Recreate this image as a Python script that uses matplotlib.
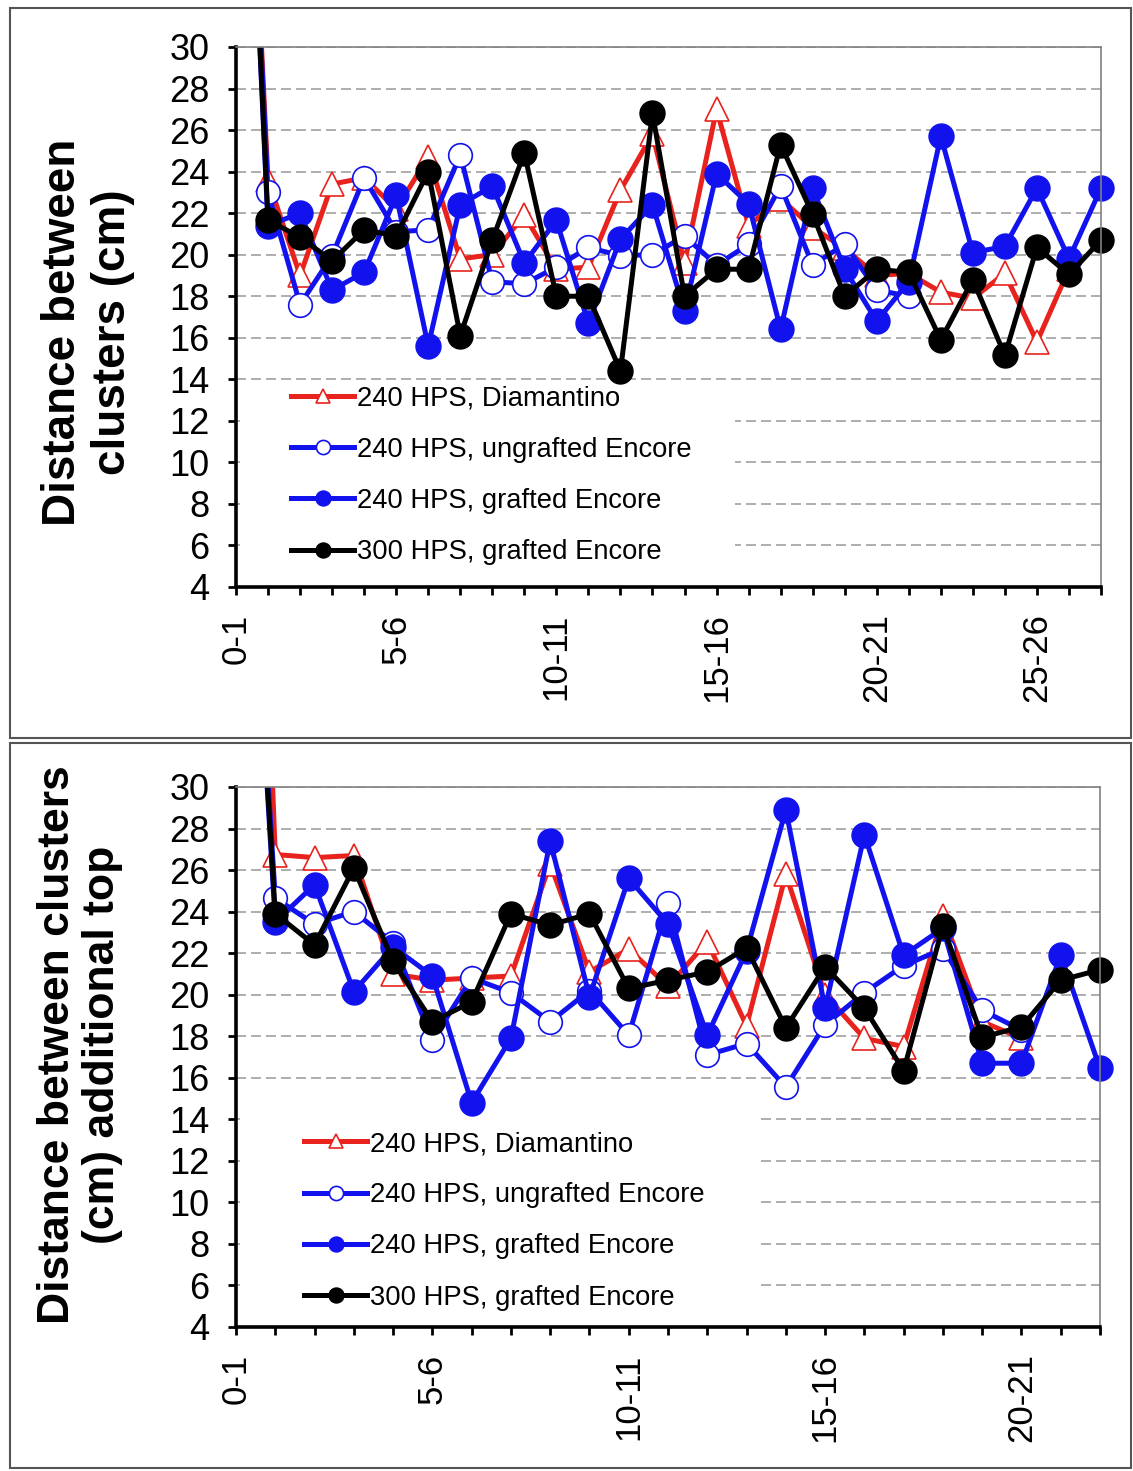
import matplotlib
matplotlib.use("Agg")
import matplotlib.pyplot as plt
from matplotlib.patches import Rectangle
from matplotlib.lines import Line2D

plt.rcParams['font.family'] = ['Liberation Sans', 'DejaVu Sans']

# legend names
names = ["240 HPS, Diamantino", "240 HPS, ungrafted Encore",
         "240 HPS, grafted Encore", "300 HPS, grafted Encore"]

# top chart, categories 0-1 ... 27-28
cats_top = [f"{i}-{i+1}" for i in range(28)]
red_top = [55, 23.6, 19.0, 23.4, 23.7, 22.2, 24.7, 19.8, 20.0, 21.9, 19.3, 19.4, 23.1, 25.8,
           19.6, 27.0, 21.4, 22.7, 21.3, 20.3, 19.0, 19.1, 18.2, 17.9, 19.1, 15.8, 19.3]
open_top = [55, 23.0, 17.6, 19.95, 23.7, 21.1, 21.2, 24.8, 18.7, 18.6, 19.4, 20.35, 19.95,
            20.0, 20.9, 19.5, 20.5, 23.3, 19.5, 20.5, 18.3, 18.0]
fill_top = [55, 21.4, 22.0, 18.3, 19.15, 22.85, 15.6, 22.4, 23.3, 19.6, 21.65, 16.7, 20.75,
            22.4, 17.3, 23.9, 22.45, 16.4, 23.2, 19.3, 16.8, 18.7, 25.7, 20.1, 20.4, 23.2,
            19.8, 23.2]
black_top = [55, 21.65, 20.85, 19.7, 21.2, 20.9, 24.0, 16.1, 20.7, 24.9, 18.0, 18.0, 14.4,
             26.8, 18.0, 19.3, 19.3, 25.3, 21.95, 18.0, 19.3, 19.15, 15.9, 18.8, 15.15, 20.35,
             19.05, 20.7]

# bottom chart, categories 0-1 ... 22-23
cats_bot = [f"{i}-{i+1}" for i in range(23)]
red_bot = [75, 26.75, 26.6, 26.7, 21.0, 20.7, 20.8, 20.9, 26.3, 21.1, 22.2, 20.4, 22.55,
           18.5, 25.8, 20.0, 17.9, 17.5, 23.8, 18.7, 17.9]
open_bot = [55, 24.65, 23.4, 24.0, 22.5, 17.8, 20.8, 20.1, 18.7, 20.2, 18.05, 24.4, 17.1,
            17.65, 15.55, 18.55, 20.1, 21.4, 22.2, 19.25, 18.3]
fill_bot = [55, 23.5, 25.3, 20.15, 22.3, 20.9, 14.8, 17.9, 27.4, 19.9, 25.6, 23.4, 18.05,
            22.1, 28.9, 19.35, 27.7, 21.9, 23.2, 16.7, 16.7, 21.9, 16.45]
black_bot = [55, 23.9, 22.4, 26.1, 21.6, 18.7, 19.65, 23.9, 23.35, 23.9, 20.3, 20.7, 21.1,
             22.25, 18.4, 21.35, 19.35, 16.35, 23.3, 17.95, 18.45, 20.7, 21.2]

RED = '#E8231E'
BLUE = '#1212EE'

styles = [
    dict(color=RED, marker='^', mfc='white', mec=RED, ms=17, mew=1.2),
    dict(color=BLUE, marker='o', mfc='white', mec=BLUE, ms=17, mew=1.2),
    dict(color=BLUE, marker='o', mfc=BLUE, mec=BLUE, ms=18),
    dict(color='black', marker='o', mfc='black', mec='black', ms=18),
]

W, H = 1133, 1471
fig = plt.figure(figsize=(W / 100, H / 100), dpi=100)

# panel borders
fig.add_artist(Rectangle((10 / W, 1 - 738 / H), 1121 / W, 730 / H, transform=fig.transFigure,
                         fill=False, ec='#555555', lw=1.5))
fig.add_artist(Rectangle((10 / W, 1 - 1468 / H), 1121 / W, 725 / H, transform=fig.transFigure,
                         fill=False, ec='#555555', lw=1.5))


def draw(ax, cats, series, ylabel, ylab_x, ylab_y, ylab_fs, leg_pos, box):
    n = len(cats)
    clip = Rectangle((-1, 4), n + 1, 26, transform=ax.transData)
    for vals, st in zip(series, styles):
        ln, = ax.plot(range(len(vals)), vals, lw=3.6, **st)
        ln.set_clip_path(clip)
    ax.set_xlim(0, n - 1)
    ax.set_ylim(4, 30)
    ax.set_yticks(range(4, 31, 2))
    ax.set_xticks(range(n))
    ax.set_xticklabels([c if i % 5 == 0 else '' for i, c in enumerate(cats)],
                       rotation=90, fontsize=25)
    ax.tick_params(axis='y', labelsize=26, length=6, width=2, pad=13)
    ax.tick_params(axis='x', length=6, width=2, pad=13)
    ax.yaxis.grid(True, ls=(0, (6, 3)), color='#a0a0a0', lw=1.2)
    ax.set_axisbelow(True)
    for s in ['left', 'bottom']:
        ax.spines[s].set_linewidth(2.6)
    for s in ['top', 'right']:
        ax.spines[s].set_color('#808080')
        ax.spines[s].set_linewidth(1.2)
    # white area behind the legend hides the gridlines
    ax.add_patch(Rectangle((0.005, 0.004), box[0], box[1], transform=ax.transAxes,
                           fc='white', ec='none', zorder=1))
    fig.text(ylab_x / W, 1 - ylab_y / H, ylabel, rotation=90, ha='center',
             va='center', fontsize=ylab_fs, fontweight='bold', linespacing=1.15)
    handles = [Line2D([], [], lw=3.6, **dict(st, ms=st['ms'] * 0.6)) for st in styles]
    leg = ax.legend(handles, names, loc='lower left', bbox_to_anchor=leg_pos,
                    fontsize=19.7, frameon=False, handlelength=2.3, handletextpad=0.1,
                    labelspacing=0.92, borderpad=0.5, borderaxespad=0.1)
    leg.set_zorder(5)


ax1 = fig.add_axes([236 / W, 1 - 587 / H, 865 / W, 540 / H])
draw(ax1, cats_top, [red_top, open_top, fill_top, black_top],
     "Distance between\nclusters (cm)", 88, 332, 33, (0.045, 0.01), (0.572, 0.365))

ax2 = fig.add_axes([236 / W, 1 - 1327 / H, 864 / W, 540 / H])
draw(ax2, cats_bot, [red_bot, open_bot, fill_bot, black_bot],
     "Distance between clusters\n(cm) additional top", 80, 1045, 32, (0.06, 0.0),
     (0.598, 0.39))

fig.savefig("out.png", dpi=100)
